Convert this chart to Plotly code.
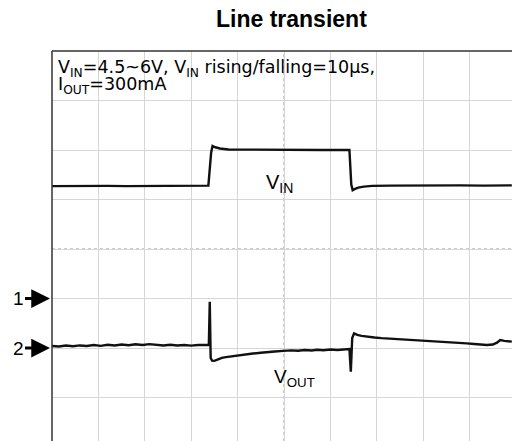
import plotly.graph_objects as go

# ---- data (time in µs, 100 µs/div) ----
vin_t = [0, 40, 80, 120, 160, 200, 240, 280, 320, 337, 343, 346, 352, 362, 380, 420, 460,
         500, 540, 580, 620, 641, 645, 648, 652, 660, 672, 690, 730, 780, 830, 880, 930, 991]
vin_v = [4.54, 4.55, 4.54, 4.55, 4.54, 4.55, 4.54, 4.55, 4.55, 4.56, 5.90, 6.16, 6.11, 6.06,
         6.02, 6.01, 6.00, 6.00, 6.00, 6.00, 6.00, 6.00, 4.60, 4.38, 4.42, 4.48, 4.52, 4.55,
         4.56, 4.57, 4.56, 4.57, 4.56, 4.57]

vout_t = [0, 15, 30, 45, 60, 75, 90, 105, 120, 135, 150, 165, 180, 195, 210, 225, 240, 255,
          270, 285, 300, 315, 330, 338, 340, 342, 345, 350, 358, 366, 375, 390, 405, 420,
          433, 450, 465, 480, 498, 515, 530, 545, 560, 571, 585, 600, 615, 630, 641, 644,
          647, 651, 658, 667, 679, 695, 710, 730, 750, 770, 790, 810, 821, 840, 860, 880,
          894, 910, 925, 937, 950, 959, 966, 975, 991]
vout_mv = [2.0, 1.5, 2.5, 1.8, 2.6, 2.0, 3.0, 2.2, 3.2, 2.5, 3.5, 2.8, 3.8, 3.0, 3.9, 3.2,
           2.6, 3.3, 2.5, 3.0, 2.4, 3.0, 2.8, 3.2, 46.8, -10.0, -12.8, -13.0, -11.5, -10.0,
           -9.2, -8.1, -7.5, -6.2, -5.6, -4.8, -4.5, -3.5, -2.9, -2.4, -2.8, -2.0, -2.5,
           -1.8, -2.3, -1.5, -2.0, -1.2, -1.0, -24.0, 10.0, 14.8, 13.2, 12.3, 11.4, 10.6,
           10.0, 9.5, 8.8, 8.3, 7.8, 7.3, 7.1, 6.2, 5.6, 5.0, 4.7, 4.0, 3.4, 3.0, 3.5, 5.4,
           8.1, 7.2, 6.4]

# scope settings
time_per_div = 100.0   # µs/div
ch1_v_per_div = 2.0    # V/div
ch2_mv_per_div = 50.0  # mV/div
ch1_ground_div = 3.0
ch2_ground_div = 2.0

FONT = "Liberation Sans, Arial, sans-serif"
WIDE = "DejaVu Sans, Liberation Sans, sans-serif"

fig = go.Figure()
fig.add_trace(go.Scatter(
    x=[t / time_per_div for t in vin_t],
    y=[ch1_ground_div + v / ch1_v_per_div for v in vin_v],
    mode="lines", line=dict(color="#111111", width=2.4), hoverinfo="skip"))
fig.add_trace(go.Scatter(
    x=[t / time_per_div for t in vout_t],
    y=[ch2_ground_div + v / ch2_mv_per_div for v in vout_mv],
    mode="lines", line=dict(color="#111111", width=2.4), hoverinfo="skip"))

# center graticule lines
fig.add_shape(type="line", xref="x", yref="paper", x0=5, x1=5, y0=0, y1=1,
              line=dict(color="#999999", width=1, dash="dot"), layer="below")
fig.add_shape(type="line", xref="paper", yref="y", x0=0, x1=1, y0=4, y1=4,
              line=dict(color="#999999", width=1, dash="dot"), layer="below")
# frame (left and top edges; right and bottom lie outside the picture)
fig.add_shape(type="line", xref="paper", yref="paper", x0=0, x1=0, y0=0, y1=1,
              line=dict(color="#333333", width=1.5))
fig.add_shape(type="line", xref="paper", yref="paper", x0=0, x1=1, y0=1, y1=1,
              line=dict(color="#333333", width=1.5))

W, H = 512, 441
L, T = 52, 51
PW, PH = W - L, H - T


def px(xp):
    return (xp - L) / PW


def py(yp):
    return (H - yp) / PH


ann = []
ann.append(dict(text="<b>Line transient</b>", x=px(291), y=py(19), xref="paper", yref="paper",
                xanchor="center", yanchor="middle", showarrow=False,
                font=dict(family=FONT, size=23, color="#000")))
ann.append(dict(text="V<sub>IN</sub>=4.5~6V, V<sub>IN</sub> rising/falling=10µs,",
                x=px(56), y=py(69), xref="paper", yref="paper",
                xanchor="left", yanchor="middle", showarrow=False,
                font=dict(family=WIDE, size=17.5, color="#000")))
ann.append(dict(text="I<sub>OUT</sub>=300mA",
                x=px(56), y=py(85), xref="paper", yref="paper",
                xanchor="left", yanchor="middle", showarrow=False,
                font=dict(family=WIDE, size=17.5, color="#000")))
ann.append(dict(text="V<sub>IN</sub>", x=px(264), y=py(183), xref="paper", yref="paper",
                xanchor="left", yanchor="middle", showarrow=False,
                font=dict(family=FONT, size=20, color="#000")))
ann.append(dict(text="V<sub>OUT</sub>", x=px(272), y=py(378), xref="paper", yref="paper",
                xanchor="left", yanchor="middle", showarrow=False,
                font=dict(family=FONT, size=19, color="#000")))
for lab, gdiv in (("1", ch1_ground_div), ("2", ch2_ground_div)):
    ann.append(dict(text=lab, x=px(50), y=gdiv, xref="paper", yref="y",
                    ax=-32, ay=0, showarrow=True, arrowhead=2, arrowsize=1.25,
                    arrowwidth=3, arrowcolor="#000", standoff=0,
                    font=dict(family=FONT, size=19, color="#000")))

fig.update_layout(
    width=W, height=H,
    margin=dict(l=L, r=0, t=T, b=0, pad=0),
    paper_bgcolor="white", plot_bgcolor="white",
    showlegend=False,
    annotations=ann,
    xaxis=dict(range=[0, (W - L) / 46.4], dtick=1, tick0=0, showgrid=True,
               gridcolor="#d6d6d6", gridwidth=1, zeroline=False, showticklabels=False,
               ticks="", showline=False),
    yaxis=dict(range=[(447 - H) / 49.5, 8], dtick=1, tick0=0, showgrid=True,
               gridcolor="#d6d6d6", gridwidth=1, zeroline=False, showticklabels=False,
               ticks="", showline=False),
)

fig.write_html("out.html", config={"displayModeBar": False},
               post_script="document.body.style.margin='0';document.body.style.overflow='hidden';")
